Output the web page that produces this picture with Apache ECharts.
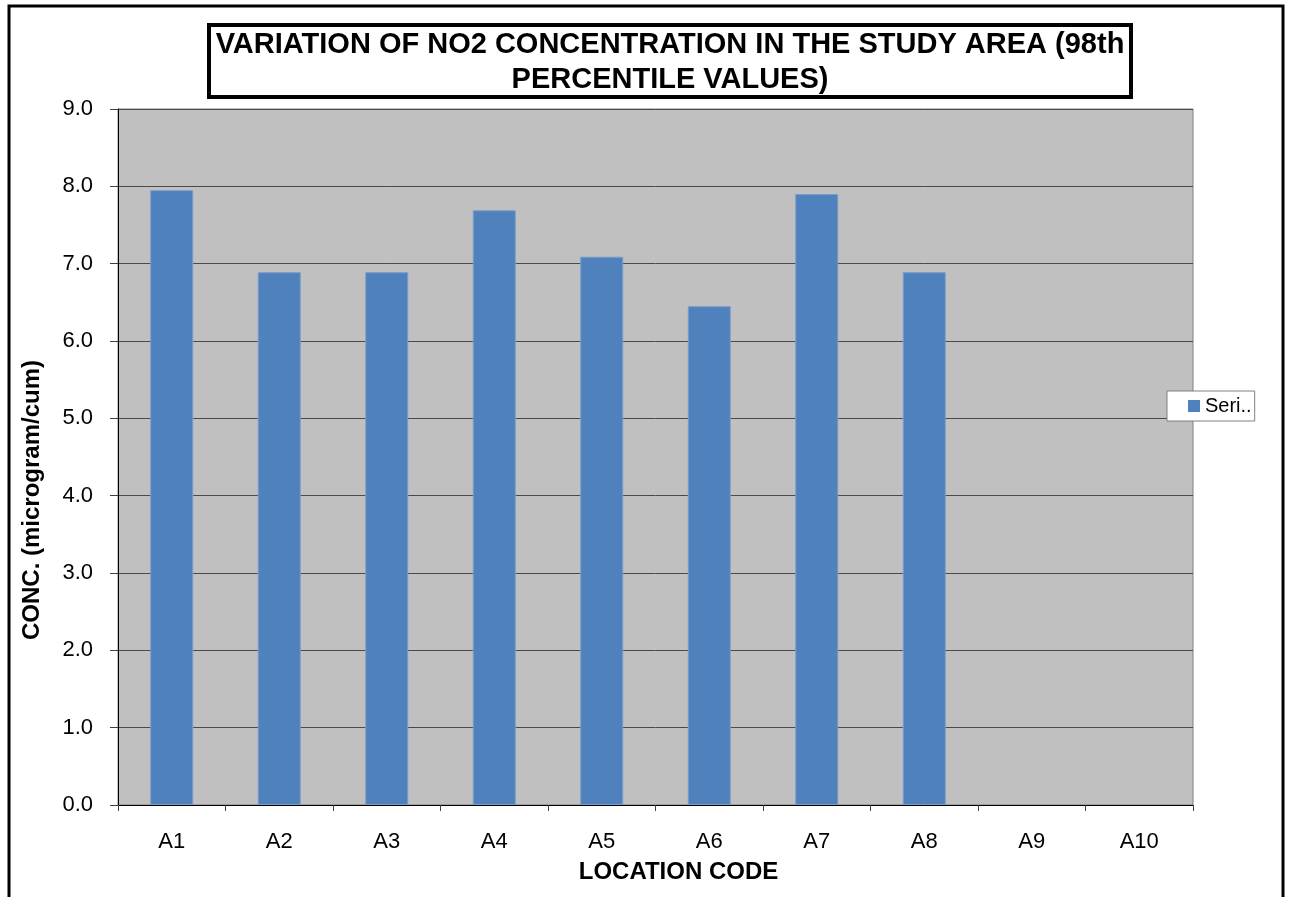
<!DOCTYPE html>
<html>
<head>
<meta charset="utf-8">
<script src="https://cdn.jsdelivr.net/npm/echarts@6/dist/echarts.min.js"></script>
<style>
  html, body { margin: 0; padding: 0; background: #fff; }
  #main { width: 1290px; height: 897px; }
</style>
</head>
<body>
<div id="main"></div>
<script>
var categories = ['A1', 'A2', 'A3', 'A4', 'A5', 'A6', 'A7', 'A8', 'A9', 'A10'];
var no2Values = [7.95, 6.89, 6.89, 7.69, 7.09, 6.45, 7.90, 6.89, null, null];
var seriesName = 'Series1';
var yMin = 0, yMax = 9, yStep = 1;

var font = "'Liberation Sans', Arial, sans-serif";

var chartDom = document.getElementById('main');
var myChart = echarts.init(chartDom);
var option;

option = {
  animation: false,
  backgroundColor: '#fff',
  title: {
    text: 'VARIATION OF NO2 CONCENTRATION IN THE STUDY AREA (98th\nPERCENTILE VALUES)',
    left: 670,
    top: 27,
    textAlign: 'center',
    padding: 0,
    textStyle: {
      fontFamily: font,
      fontWeight: 'bold',
      fontSize: 29,
      lineHeight: 35,
      color: '#000'
    }
  },
  graphic: [
    {
      type: 'rect',
      shape: { x: 9, y: 6, width: 1274, height: 940 },
      style: { fill: 'none', stroke: '#000', lineWidth: 3 },
      silent: true
    },
    {
      type: 'rect',
      shape: { x: 209, y: 25, width: 922, height: 72 },
      style: { fill: 'none', stroke: '#000', lineWidth: 4 },
      silent: true
    }
  ],
  legend: {
    left: 1167,
    top: 391,
    orient: 'vertical',
    backgroundColor: '#fff',
    borderColor: '#808080',
    borderWidth: 1,
    padding: [5, 3, 5, 21],
    itemWidth: 12,
    itemHeight: 12,
    icon: 'rect',
    itemStyle: { borderWidth: 0 },
    formatter: function (name) { return name.slice(0, 4) + '..'; },
    textStyle: { fontFamily: font, fontSize: 20, color: '#000' }
  },
  grid: {
    left: 118,
    top: 109,
    right: 97,
    bottom: 92,
    show: true,
    backgroundColor: '#C0C0C0',
    borderColor: '#808080',
    borderWidth: 1
  },
  xAxis: {
    type: 'category',
    data: categories,
    name: 'LOCATION CODE',
    nameLocation: 'middle',
    nameGap: 55,
    nameTextStyle: {
      fontFamily: font,
      fontWeight: 'bold',
      fontSize: 24,
      color: '#000',
      padding: [0, 0, 0, 46]
    },
    axisLine: { show: true, lineStyle: { color: '#000', width: 1 } },
    axisTick: { show: true, length: 6, lineStyle: { color: '#404040' } },
    axisLabel: { fontFamily: font, fontSize: 22, color: '#000', margin: 26 }
  },
  yAxis: {
    type: 'value',
    min: yMin,
    max: yMax,
    interval: yStep,
    name: 'CONC. (microgram/cum)',
    nameLocation: 'middle',
    nameGap: 74,
    nameTextStyle: {
      fontFamily: font,
      fontWeight: 'bold',
      fontSize: 24,
      color: '#000',
      padding: [0, 86, 0, 0]
    },
    axisLine: { show: true, lineStyle: { color: '#000', width: 1 } },
    axisTick: { show: true, length: 8, lineStyle: { color: '#404040' } },
    axisLabel: {
      fontFamily: font,
      fontSize: 22,
      color: '#000',
      margin: 25,
      formatter: function (v) { return v.toFixed(1); }
    },
    splitLine: { show: true, lineStyle: { color: '#4a4a4a', width: 1 } }
  },
  series: [
    {
      name: seriesName,
      type: 'bar',
      data: no2Values,
      barWidth: '40%',
      itemStyle: {
        color: '#4F81BD',
        borderColor: '#7A9CCB',
        borderWidth: 1
      }
    }
  ]
};

option && myChart.setOption(option);
</script>
</body>
</html>
